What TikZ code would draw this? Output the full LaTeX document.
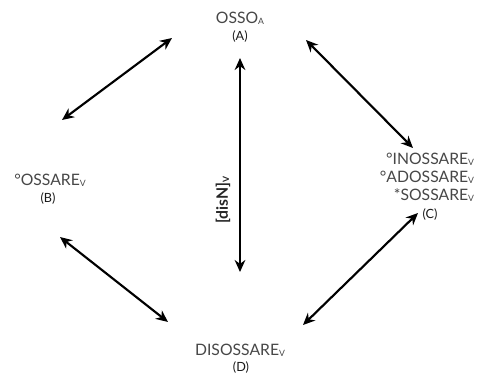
\documentclass[tikz,border=0pt]{standalone}
\usepackage{fontspec}
\setmainfont{Lato}
\usetikzlibrary{arrows.meta}
\newcommand\catsub[1]{\raisebox{-0.15ex}{\fontsize{6.5}{7}\selectfont #1}}
\tikzset{
	word/.style={text=black!72, font=\fontsize{11.8}{13}\selectfont, inner sep=0pt},
	tag/.style={text=black!90, font=\fontsize{9.5}{10}\selectfont, inner sep=0pt},
	dbl/.style={line width=1.6pt, {Stealth[length=9pt,width=8pt]}-{Stealth[length=9pt,width=8pt]}}
}
\begin{document}
\begin{tikzpicture}[x=0.75pt,y=-0.75pt]
	% frame
	\useasboundingbox (0,0) rectangle (480,376);

	% the four forms
	\node[word] (A) at (240,18) {OSSO\catsub{A}};
	\node[tag] (a) at (240,37) {(A)};
	\node[word] (B) at (50,180) {°OSSARE\catsub{V}};
	\node[tag] (b) at (48,199) {(B)};
	\node[word, align=right] (C) at (427,177) {°INOSSARE\catsub{V}\\[0.5pt]°ADOSSARE\catsub{V}\\[0.5pt]*SOSSARE\catsub{V}};
	\node[tag] (c) at (430,215) {(C)};
	\node[word] (D) at (240,350) {DISOSSARE\catsub{V}};
	\node[tag] (d) at (241,368) {(D)};

	% arrow ends
	\coordinate (ab1) at (172,38);  \coordinate (ab2) at (62,120);
	\coordinate (ac1) at (306,40);  \coordinate (ac2) at (413,148);
	\coordinate (bd1) at (60,237);  \coordinate (bd2) at (168,322);
	\coordinate (cd1) at (418,213); \coordinate (cd2) at (303,325);
	\coordinate (ad1) at (240,58);  \coordinate (ad2) at (240,272);

	\draw[dbl] (ab1) -- (ab2);
	\draw[dbl] (ac1) -- (ac2);
	\draw[dbl] (bd1) -- (bd2);
	\draw[dbl] (cd1) -- (cd2);
	\draw[dbl] (ad1) -- (ad2);

	% label on the vertical arrow
	\node[word, text=black!85, font=\fontsize{11.8}{13}\selectfont\bfseries, rotate=90] (dis) at (223,200) {[disN]\catsub{V}};
\end{tikzpicture}
\end{document}
